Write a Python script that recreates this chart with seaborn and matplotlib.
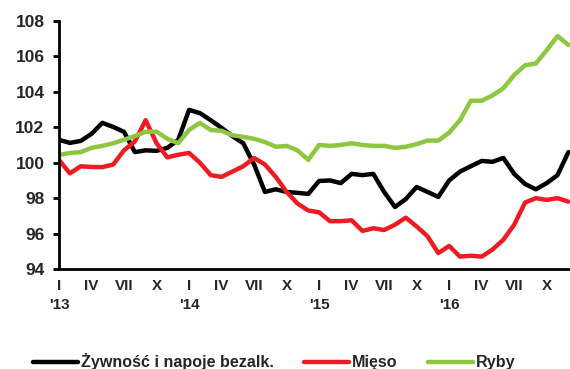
import numpy as np
import pandas as pd
import matplotlib
matplotlib.use("Agg")
import matplotlib.pyplot as plt
import seaborn as sns

# Monthly indices, Jan 2013 - Dec 2016 (same month of previous year = 100)
months = list(range(48))
zywnosc = [101.29, 101.12, 101.23, 101.63, 102.25, 102.02, 101.74, 100.60, 100.70, 100.67, 100.84, 101.29,
           102.98, 102.80, 102.40, 101.97, 101.50, 101.10, 99.90, 98.35, 98.50, 98.35, 98.30, 98.24,
           98.97, 99.00, 98.85, 99.37, 99.30, 99.37, 98.35, 97.50, 97.95, 98.63, 98.35, 98.07,
           99.00, 99.50, 99.80, 100.10, 100.05, 100.27, 99.37, 98.80, 98.50, 98.85, 99.30, 100.60]
mieso = [100.16, 99.40, 99.80, 99.76, 99.75, 99.90, 100.70, 101.20, 102.40, 101.10, 100.30, 100.45,
         100.55, 100.00, 99.30, 99.20, 99.50, 99.80, 100.27, 99.90, 99.20, 98.35, 97.70, 97.30,
         97.20, 96.70, 96.70, 96.75, 96.15, 96.30, 96.20, 96.50, 96.90, 96.40, 95.85, 94.90,
         95.30, 94.70, 94.75, 94.70, 95.10, 95.65, 96.50, 97.75, 98.00, 97.90, 98.00, 97.80]
ryby = [100.44, 100.55, 100.60, 100.84, 100.95, 101.10, 101.30, 101.50, 101.75, 101.75, 101.35, 101.10,
        101.85, 102.25, 101.85, 101.80, 101.55, 101.46, 101.35, 101.17, 100.90, 100.95, 100.70, 100.16,
        101.00, 100.95, 101.00, 101.10, 101.00, 100.95, 100.95, 100.84, 100.90, 101.05, 101.25, 101.25,
        101.70, 102.40, 103.50, 103.50, 103.80, 104.20, 104.95, 105.50, 105.60, 106.35, 107.15, 106.65]

series_names = ["Żywność i napoje bezalk.", "Mięso", "Ryby"]
series_colors = ["#000000", "#ED1C24", "#8DC63F"]
roman = ["I", "IV", "VII", "X"]
years = ["'13", "'14", "'15", "'16"]
y_ticks = [94, 96, 98, 100, 102, 104, 106, 108]

df = pd.concat([
    pd.DataFrame({"month": months, "value": vals, "series": name})
    for name, vals in zip(series_names, [zywnosc, mieso, ryby])
], ignore_index=True)

sns.set_theme(style="white")
plt.rcParams["font.family"] = ["Liberation Sans", "DejaVu Sans"]
plt.rcParams["font.weight"] = "bold"

fig = plt.figure(figsize=(5.70, 3.69), dpi=100)
ax = fig.add_axes([59 / 570, 1 - 269 / 369, 511 / 570, 248 / 369])

sns.lineplot(data=df, x="month", y="value", hue="series", hue_order=series_names,
             palette=series_colors, linewidth=3.2, ax=ax, legend=False,
             solid_joinstyle="round", solid_capstyle="round")

ax.set_xlim(0, 47.15)
ax.set_ylim(94, 108)
ax.set_yticks(y_ticks)
ax.set_yticklabels([str(v) for v in y_ticks], fontsize=12.5, fontweight="bold")

xt = list(range(0, 48, 3))
xl = []
for m in xt:
    lab = roman[(m % 12) // 3]
    if m % 12 == 0:
        lab = lab + "\n" + years[m // 12]
    xl.append(lab)
ax.set_xticks(xt)
ax.set_xticklabels(xl, fontsize=11, fontweight="bold", linespacing=1.5, va="top",
                   multialignment="center")

ax.set_xlabel("")
ax.set_ylabel("")
for side in ["top", "right"]:
    ax.spines[side].set_visible(False)
for side in ["left", "bottom"]:
    ax.spines[side].set_color("black")
    ax.spines[side].set_linewidth(2)
ax.tick_params(axis="y", direction="out", length=4.5, width=2, color="black", pad=6, left=True)
ax.tick_params(axis="x", length=0, pad=7)
ax.grid(False)

handles = [plt.Line2D([0], [0], color=c, lw=3.2, solid_capstyle="round") for c in series_colors]
fig.legend(handles, series_names, loc="center", bbox_to_anchor=(0.481, 1 - 362 / 369),
           ncol=3, frameon=False, handlelength=2.8, handletextpad=0.15, columnspacing=1.9,
           prop={"family": "Liberation Sans", "weight": "bold", "size": 11.6})

fig.savefig("out.png", dpi=100)
